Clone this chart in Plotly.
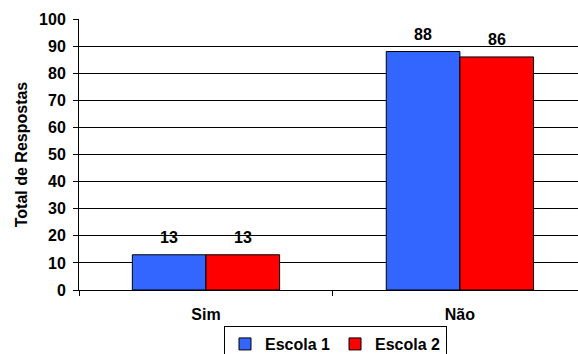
import plotly.graph_objects as go

categories = ["Sim", "Não"]
escola1 = [13, 88]
escola2 = [13, 86]
series_names = ["Escola 1", "Escola 2"]
y_ticks = list(range(0, 101, 10))

FONT = "Liberation Sans, Arial, sans-serif"
colors = ["#3366FF", "#FF0000"]

fig = go.Figure()
for name, vals, col in zip(series_names, [escola1, escola2], colors):
    fig.add_trace(go.Bar(
        x=categories, y=vals, name=f"<b>{name}</b>",
        marker=dict(color=col, line=dict(color="black", width=1)),
    ))

# value labels above each bar
for i, vals in enumerate([escola1, escola2]):
    for j, v in enumerate(vals):
        fig.add_annotation(
            x=categories[j], y=v, text=f"<b>{v}</b>", showarrow=False,
            xref="x", yref="y", xshift=(-37 if i == 0 else 37), yshift=17,
            font=dict(family=FONT, size=16, color="black"),
        )

fig.update_layout(
    width=578, height=354,
    margin=dict(l=79, r=0, t=19, b=64, autoexpand=False),
    paper_bgcolor="white", plot_bgcolor="white",
    barmode="group", bargap=0.42, bargroupgap=0,
    font=dict(family=FONT, size=15, color="black"),
    showlegend=True,
    legend=dict(
        orientation="h", xanchor="center", x=0.514,
        yref="container", yanchor="top", y=0.079,
        bordercolor="black", borderwidth=1, font=dict(size=16),
        itemwidth=30, tracegroupgap=0,
    ),
    xaxis=dict(
        type="category", range=[-0.5, 1.465], tickson="boundaries",
        tickvals=categories, ticktext=[f"<b>{c}</b>" for c in categories],
        ticks="outside", ticklen=5, tickcolor="black", ticklabelstandoff=10,
        showline=True, linecolor="black", linewidth=1,
        tickfont=dict(family=FONT, size=16), automargin=False,
    ),
    yaxis=dict(
        range=[0, 100], tickvals=y_ticks, ticktext=[f"<b>{t}</b>" for t in y_ticks],
        ticks="outside", ticklen=5, tickcolor="black", ticklabelstandoff=4,
        showline=True, linecolor="black", linewidth=1,
        showgrid=True, gridcolor="black", gridwidth=1,
        tickfont=dict(family=FONT, size=16), automargin=False,
        title=dict(text="<b>Total de Respostas</b>", font=dict(family=FONT, size=16), standoff=7),
    ),
)

fig.write_html("out.html")
